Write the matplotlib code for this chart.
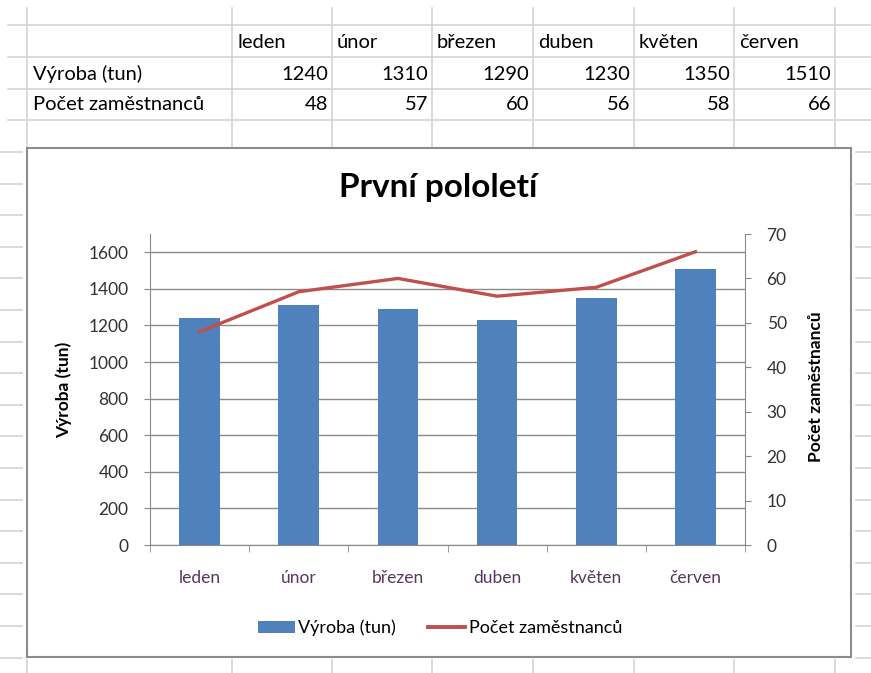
import numpy as np
import matplotlib.pyplot as plt
from matplotlib.patches import Rectangle, Patch
from matplotlib.lines import Line2D

plt.rcParams['font.family'] = ['Lato', 'DejaVu Sans']

# Data
months = ['leden', 'únor', 'březen', 'duben', 'květen', 'červen']
vyroba = [1240, 1310, 1290, 1230, 1350, 1510]
pocet = [48, 57, 60, 56, 58, 66]
row_names = ['Výroba (tun)', 'Počet zaměstnanců']

W, H = 871, 673
fig = plt.figure(figsize=(W / 100, H / 100), dpi=100)
fig.patch.set_facecolor('white')

# Background axes in pixel coordinates (spreadsheet grid)
bg = fig.add_axes([0, 0, 1, 1])
bg.set_xlim(0, W)
bg.set_ylim(H, 0)
bg.axis('off')

grid_c = '#d4d4d4'
col_edges = [27, 232, 332, 432, 533, 634, 734, 835]
row_lines = [25, 57, 89, 120]
for y in row_lines:
    bg.plot([8, W], [y, y], color=grid_c, lw=1.2)
for x in col_edges:
    bg.plot([x, x], [8, 147], color=grid_c, lw=1.2)
    bg.plot([x, x], [660, H], color=grid_c, lw=1.2)
for y in np.arange(152, 660, 31.6):
    bg.plot([0, 22], [y, y], color=grid_c, lw=1.2)
    bg.plot([856, W], [y, y], color=grid_c, lw=1.2)

# Table text
tfs = 14.5
for i, m in enumerate(months):
    bg.text(col_edges[i + 1] + 5, 43, m, fontsize=tfs, va='center', ha='left')
    bg.text(col_edges[i + 2] - 4, 74, str(vyroba[i]), fontsize=tfs, va='center', ha='right')
    bg.text(col_edges[i + 2] - 4, 105, str(pocet[i]), fontsize=tfs, va='center', ha='right')
bg.text(33, 74, row_names[0], fontsize=tfs, va='center', ha='left')
bg.text(33, 105, row_names[1], fontsize=tfs, va='center', ha='left')

# Chart area
bg.add_patch(Rectangle((27, 148), 824, 509, facecolor='white', edgecolor='#8c8c8c', lw=1.5, zorder=5))

# Plot area
ax = fig.add_axes([150 / W, 1 - 545 / H, 595 / W, 311 / H])
ax.set_facecolor('none')
x = np.arange(len(months))
ax.bar(x, vyroba, width=0.41, color='#4F81BD', zorder=3)
ax.set_xlim(-0.5, 5.5)
ax.set_ylim(0, 1700)
ax.set_yticks(np.arange(0, 1601, 200))
ax.yaxis.grid(True, color='#8a8a8a', lw=1)
ax.set_axisbelow(True)
ax.set_xticks(x)
ax.set_xticklabels(months, color='#5a3560', fontsize=12.5)
ax.set_xticks(np.arange(-0.5, 6, 1), minor=True)
ax.tick_params(axis='x', which='major', length=0, pad=18)
ax.tick_params(axis='x', which='minor', length=5, color='#8a8a8a', direction='out')
ax.tick_params(axis='y', length=4.5, color='#8a8a8a', labelsize=12.5, labelcolor='#333333', pad=11)
for s in ['top', 'right']:
    ax.spines[s].set_visible(False)
for s in ['left', 'bottom']:
    ax.spines[s].set_color('#8a8a8a')

ax2 = ax.twinx()
ax2.plot(x, pocet, color='#C0504D', lw=2.4, zorder=4)
ax2.set_ylim(0, 70)
ax2.set_yticks(np.arange(0, 71, 10))
ax2.tick_params(axis='y', length=4.5, color='#8a8a8a', labelsize=12.5, labelcolor='#333333', pad=11)
for s in ['top', 'left', 'bottom']:
    ax2.spines[s].set_visible(False)
ax2.spines['right'].set_color('#8a8a8a')

# Titles
fig.text(438 / W, 1 - 188 / H, 'První pololetí', fontsize=24, fontweight='bold', ha='center', va='center')
fig.text(64 / W, 1 - 390 / H, 'Výroba (tun)', fontsize=12.5, fontweight='bold', rotation=90, ha='center', va='center')
fig.text(816 / W, 1 - 387 / H, 'Počet zaměstnanců', fontsize=12.5, fontweight='bold', rotation=90, ha='center', va='center')

# Legend
handles = [Patch(facecolor='#4F81BD'), Line2D([0], [0], color='#C0504D', lw=2.8)]
fig.legend(handles, row_names, loc='center', bbox_to_anchor=(440 / W, 1 - 628 / H), ncol=2,
           frameon=False, fontsize=13, handlelength=2.05, handletextpad=0.2, columnspacing=1.8)

fig.savefig('out.png', dpi=100)
